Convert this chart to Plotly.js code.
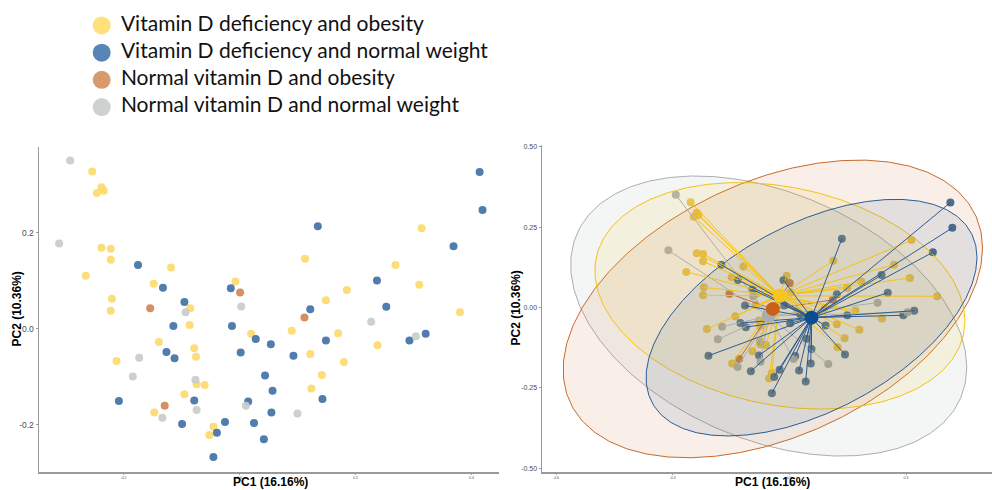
<!DOCTYPE html>
<html>
<head>
<meta charset="utf-8">
<script src="https://cdn.plot.ly/plotly-3.0.1.min.js"></script>
<style>
  html, body { margin: 0; padding: 0; background: #ffffff; }
  #chart { width: 992px; height: 490px; }
</style>
</head>
<body>
<div id="chart"></div>
<script>
// Group names, in legend order
const groupNames = [
  'Vitamin D deficiency and obesity',
  'Vitamin D deficiency and normal weight',
  'Normal vitamin D and obesity',
  'Normal vitamin D and normal weight'
];

// PCoA scores (PC1, PC2) per sample, one pair of arrays per group
const defObesePC1 = [-0.254,-0.238,-0.246,-0.234,-0.238,-0.222,-0.222,-0.265,-0.118,-0.148,-0.220,-0.222,-0.085,-0.086,-0.007,0.020,-0.139,-0.078,-0.075,-0.212,-0.074,-0.060,-0.095,-0.147,-0.045,-0.052,0.314,0.113,0.269,0.310,0.185,0.149,0.380,0.090,0.170,0.238,0.122,0.180,0.142,0.124];
const defObesePC2 = [0.328,0.295,0.283,0.288,0.169,0.167,0.144,0.111,0.128,0.094,0.063,0.038,0.043,0.008,0.099,-0.010,-0.027,-0.040,-0.058,-0.067,-0.115,-0.117,-0.136,-0.174,-0.204,-0.221,0.210,0.146,0.133,0.092,0.081,0.060,0.035,-0.004,-0.009,-0.034,-0.052,-0.069,-0.096,-0.124];

const defNormalPC1 = [-0.175,-0.132,-0.095,-0.114,-0.015,-0.013,0.028,-0.126,-0.112,0.002,-0.208,-0.078,-0.099,-0.025,0.015,0.025,-0.039,-0.045,0.414,0.419,0.135,0.369,0.237,0.253,0.122,0.054,0.149,0.293,0.321,0.093,0.044,0.057,0.143,0.055,0.042];
const defNormalPC2 = [0.133,0.086,0.056,0.006,0.085,0.006,-0.021,-0.048,-0.061,-0.049,-0.150,-0.149,-0.198,-0.194,-0.151,-0.196,-0.216,-0.267,0.327,0.248,0.214,0.172,0.101,0.046,0.041,-0.032,-0.024,-0.024,-0.010,-0.056,-0.097,-0.129,-0.146,-0.174,-0.230];

const sufObesePC1 = [-0.154,0.001,-0.129,0.112];
const sufObesePC2 = [0.043,0.076,-0.160,0.024];

const sufNormalPC1 = [-0.292,-0.311,-0.093,0.003,-0.173,-0.184,-0.076,-0.074,-0.133,0.011,0.227,0.304,0.100];
const sufNormalPC2 = [0.351,0.178,0.035,0.047,-0.060,-0.099,-0.106,-0.169,-0.185,-0.160,0.015,-0.015,-0.176];

// Axis tick labels
const pc1TicksLeft = [-0.2, 0, 0.2, 0.4];
const pc1TickTextLeft = ['-0.2', '0.0', '0.2', '0.4'];
const pc2TicksLeft = [-0.2, 0, 0.2];
const pc2TickTextLeft = ['-0.2', '0.0', '0.2'];
const pc1TicksRight = [-0.6, -0.3, 0, 0.3];
const pc1TickTextRight = ['-0.6', '-0.3', '0.0', '0.3'];
const pc2TicksRight = [-0.5, -0.25, 0, 0.25, 0.5];
const pc2TickTextRight = ['-0.50', '-0.25', '0.00', '0.25', '0.50'];

const groups = [
  { x: defObesePC1,  y: defObesePC2 },
  { x: defNormalPC1, y: defNormalPC2 },
  { x: sufObesePC1,  y: sufObesePC2 },
  { x: sufNormalPC1, y: sufNormalPC2 }
];

// Palettes
const legendColors = ['#FFE07A', '#5786B6', '#D99A6B', '#CDD1D1'];
const pointColors  = ['#FDD96A', '#3D6EA5', '#CF8452', '#C6CBCB'];
const spiderColors = ['#F4C218', '#2B5C94', '#C86A2C', '#ABAFAF'];
const rightPointColors = ['#EFC43A', '#2F5E8E', '#C46E30', '#A8ACA6'];
const centroidColors = ['#F7C51C', '#0C4C91', '#C8621A', '#A9ADAD'];
const fillColors = ['rgba(244,194,24,0.10)', 'rgba(43,92,148,0.10)', 'rgba(200,106,44,0.11)', 'rgba(171,175,175,0.13)'];

const mean = a => a.reduce((s, v) => s + v, 0) / a.length;

// F(2, d) quantile has a closed form
function qf2(p, d) { return (d / 2) * (Math.pow(1 - p, -2 / d) - 1); }

// 95% normal-theory confidence ellipse (sample covariance), 51 segments
function ellipse(xs, ys) {
  const n = xs.length;
  const mx = mean(xs), my = mean(ys);
  let a = 0, b = 0, c = 0;
  for (let i = 0; i < n; i++) {
    const dx = xs[i] - mx, dy = ys[i] - my;
    a += dx * dx; b += dx * dy; c += dy * dy;
  }
  a /= (n - 1); b /= (n - 1); c /= (n - 1);
  const r = Math.sqrt(2 * qf2(0.95, n - 1));
  const r11 = Math.sqrt(a);
  const r12 = b / r11;
  const r22 = Math.sqrt(c - r12 * r12);
  const ex = [], ey = [];
  for (let k = 0; k <= 51; k++) {
    const t = 2 * Math.PI * k / 51;
    const u = Math.cos(t), v = Math.sin(t);
    ex.push(mx + r * u * r11);
    ey.push(my + r * (u * r12 + v * r22));
  }
  return { x: ex, y: ey };
}

const traces = [];

// Left panel: plain PCoA scatter
groups.forEach((g, i) => {
  traces.push({
    type: 'scatter', mode: 'markers', x: g.x, y: g.y,
    xaxis: 'x', yaxis: 'y', showlegend: false, hoverinfo: 'skip',
    marker: { size: 8, color: pointColors[i], opacity: 0.9 }
  });
});

// Right panel: samples
groups.forEach((g, i) => {
  traces.push({
    type: 'scatter', mode: 'markers', x: g.x, y: g.y,
    xaxis: 'x2', yaxis: 'y2', showlegend: false, hoverinfo: 'skip',
    marker: { size: 8, color: rightPointColors[i], opacity: 0.9 }
  });
});

// Right panel: confidence ellipses
[3, 2, 0, 1].forEach(i => {
  const e = ellipse(groups[i].x, groups[i].y);
  traces.push({
    type: 'scatter', mode: 'lines', x: e.x, y: e.y,
    xaxis: 'x2', yaxis: 'y2', showlegend: false, hoverinfo: 'skip',
    fill: 'toself', fillcolor: fillColors[i],
    line: { color: spiderColors[i], width: 1 }
  });
});

// Right panel: spider segments from each sample to its group centroid
const centroids = groups.map(g => [mean(g.x), mean(g.y)]);
[3, 2, 0, 1].forEach(i => {
  const g = groups[i], c = centroids[i];
  const sx = [], sy = [];
  g.x.forEach((x, k) => { sx.push(c[0], x, null); sy.push(c[1], g.y[k], null); });
  traces.push({
    type: 'scatter', mode: 'lines', x: sx, y: sy,
    xaxis: 'x2', yaxis: 'y2', showlegend: false, hoverinfo: 'skip',
    line: { color: spiderColors[i], width: 1 }
  });
});

// Right panel: group centroids
[3, 0, 2, 1].forEach(i => {
  traces.push({
    type: 'scatter', mode: 'markers', x: [centroids[i][0]], y: [centroids[i][1]],
    xaxis: 'x2', yaxis: 'y2', showlegend: false, hoverinfo: 'skip',
    marker: { size: 14, color: centroidColors[i] }
  });
});

// Key: swatches and names on their own hidden axes
traces.push({
  type: 'scatter', mode: 'markers', x: groupNames.map(() => 0), y: groupNames,
  xaxis: 'x3', yaxis: 'y3', showlegend: false, hoverinfo: 'skip',
  marker: { size: 18, color: legendColors }
});
traces.push({
  type: 'scatter', mode: 'text', x: groupNames.map(() => 1.08), y: groupNames,
  text: groupNames, textposition: 'middle right',
  xaxis: 'x3', yaxis: 'y3', showlegend: false, hoverinfo: 'skip',
  textfont: { family: 'Lato, Open Sans, sans-serif', size: 21, color: '#111111' }
});

const axisLine = '#9a9a9a';
const tickFont = { family: 'Liberation Sans, Arial, sans-serif', color: '#4d4d4d' };
const titleFont = { family: 'Liberation Sans, Arial, sans-serif', size: 12, color: '#000000', weight: 'bold' };

function baseAxis(extra) {
  return Object.assign({
    showgrid: false, zeroline: false, showline: true,
    linecolor: axisLine, linewidth: 1.5,
    ticks: 'outside', ticklen: 2, tickwidth: 1, tickcolor: axisLine,
    fixedrange: true
  }, extra);
}

// Axis titles placed as paper annotations
function axisTitle(text, xPx, yPx, vertical) {
  return {
    text: text, xref: 'paper', yref: 'paper', x: xPx / 992, y: 1 - yPx / 490,
    xanchor: 'center', yanchor: vertical ? 'middle' : 'bottom', borderpad: 0,
    textangle: vertical ? -90 : 0, showarrow: false, font: titleFont
  };
}

const layout = {
  width: 992, height: 490,
  margin: { l: 0, r: 0, t: 0, b: 0 },
  paper_bgcolor: '#ffffff', plot_bgcolor: 'rgba(0,0,0,0)',
  showlegend: false,
  xaxis: baseAxis({
    domain: [39 / 992, 499 / 992], range: [-0.3457, 0.4474], anchor: 'y',
    tickvals: pc1TicksLeft, ticktext: pc1TickTextLeft, ticklen: 1,
    tickfont: Object.assign({ size: 3.5 }, tickFont)
  }),
  yaxis: baseAxis({
    domain: [18 / 490, 343 / 490], range: [-0.298, 0.379], anchor: 'x',
    tickvals: pc2TicksLeft, ticktext: pc2TickTextLeft,
    tickfont: Object.assign({ size: 8.5 }, tickFont)
  }),
  xaxis2: baseAxis({
    domain: [542 / 992, 1], range: [-0.636, 0.521], anchor: 'y2',
    tickvals: pc1TicksRight, ticktext: pc1TickTextRight, ticklen: 1,
    tickfont: Object.assign({ size: 3.5 }, tickFont)
  }),
  yaxis2: baseAxis({
    domain: [18 / 490, 345 / 490], range: [-0.512, 0.506], anchor: 'x2',
    tickvals: pc2TicksRight, ticktext: pc2TickTextRight,
    tickfont: Object.assign({ size: 7 }, tickFont)
  }),
  // Key axes: x in units of one name offset, rows spaced evenly from the top
  xaxis3: { domain: [0, 1], range: [-5.713, 50.02], visible: false, fixedrange: true, anchor: 'y3' },
  yaxis3: { domain: [0, 1], type: 'category', range: [17.08, -0.935], visible: false, fixedrange: true, anchor: 'x3' },
  annotations: [
    axisTitle('PC2 (10.36%)', 16, 309.5, true),
    axisTitle('PC2 (10.36%)', 515, 308.5, true),
    axisTitle('PC1 (16.16%)', 270, 490, false),
    axisTitle('PC1 (16.16%)', 772, 490, false)
  ]
};

Plotly.newPlot('chart', traces, layout, { displayModeBar: false, staticPlot: true });
</script>
</body>
</html>
